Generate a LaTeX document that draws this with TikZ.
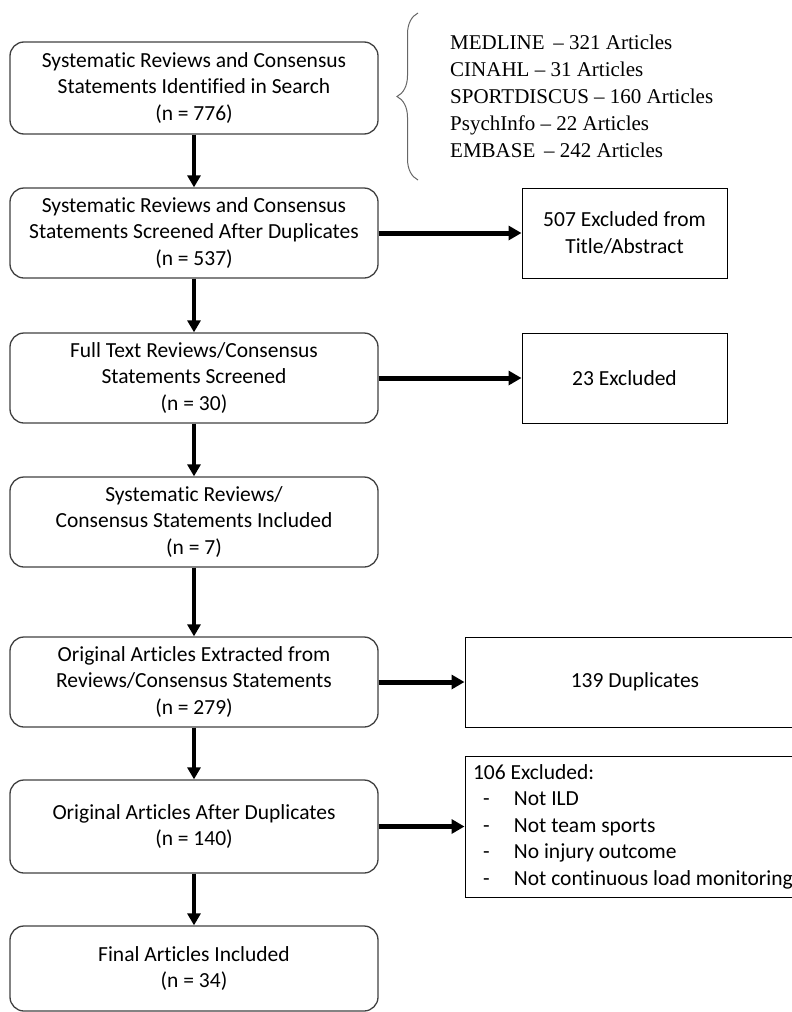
\documentclass[tikz,border=0pt]{standalone}
\usepackage{fontspec}
\setmainfont{Carlito}[Ligatures={TeX,NoCommon}]
\newfontfamily\timesfont{Liberation Serif}[Ligatures=TeX]
\usetikzlibrary{arrows.meta,decorations.pathreplacing}

\newcommand{\exclitem}[1]{\hspace*{10pt}\makebox[31pt][l]{-}#1}

\begin{document}
\begin{tikzpicture}[x=1pt,y=-1pt,
  stage/.style={draw=black!75, line width=1.3pt, rounded corners=14pt, minimum width=368pt,
    minimum height=90pt, align=center, inner sep=2pt, font=\fontsize{21.5}{26.5}\selectfont},
  note/.style={draw, line width=1pt, minimum height=90pt, align=center, inner sep=2pt,
    font=\fontsize{21.5}{26.5}\selectfont},
  down/.style={line width=3.5pt, -{Triangle[length=12pt,width=13pt]}},
  side/.style={line width=5pt, -{Triangle[length=13pt,width=14pt]}}]
\clip (0,0) rectangle (792,1012);

\node[stage, minimum height=92pt] (ident) at (194,88) {Systematic Reviews and Consensus\\ Statements Identified in Search\\ (n = 776)};
\node[stage] (screen) at (194,233) {Systematic Reviews and Consensus\\ Statements Screened After Duplicates\\ (n = 537)};
\node[stage] (full) at (194,378) {Full Text Reviews/Consensus\\ Statements Screened\\ (n = 30)};
\node[stage] (incl) at (194,522) {Systematic Reviews/\\ Consensus Statements Included\\ (n = 7)};
\node[stage] (orig) at (194,682) {Original Articles Extracted from\\ Reviews/Consensus Statements\\ (n = 279)};
\node[stage, minimum height=93pt] (dedup) at (194,826.5) {Original Articles After Duplicates\\ (n = 140)};
\node[stage, minimum height=85pt] (final) at (194,968.5) {Final Articles Included\\ (n = 34)};

\node[note, minimum width=205pt] (excl1) at (624.5,233) {507 Excluded from\\ Title/Abstract};
\node[note, minimum width=205pt] (excl2) at (624.5,378) {23 Excluded};
\node[note, minimum width=340pt] (dup) at (635,682) {139 Duplicates};
\node[note, minimum height=141pt, text width=324pt, inner xsep=8pt, align=flush left] (excl3) at (635,826.5)
  {106 Excluded:\\ \exclitem{Not ILD}\\ \exclitem{Not team sports}\\ \exclitem{No injury outcome}\\ \exclitem{Not continuous load monitoring}};

% databases searched
\coordinate (btop) at (418,13);
\coordinate (bbot) at (418,180);
\draw[black!60, line width=1pt, decorate, decoration={brace, amplitude=21pt}] (bbot) -- (btop);
\node[font=\timesfont\fontsize{21}{27}\selectfont, align=left, anchor=west, inner sep=0pt] (dbs) at (450,96)
  {MEDLINE \,– 321 Articles\\ CINAHL – 31 Articles\\ SPORTDISCUS – 160 Articles\\ PsychInfo – 22 Articles\\ EMBASE \,– 242 Articles};

\draw[down] (ident) -- (screen);
\draw[down] (screen) -- (full);
\draw[down] (full) -- (incl);
\draw[down] (incl) -- (orig);
\draw[down] (orig) -- (dedup);
\draw[down] (dedup) -- (final);

\draw[side] (screen) -- (excl1);
\draw[side] (full) -- (excl2);
\draw[side] (orig) -- (dup);
\draw[side] (dedup) -- (excl3);
\end{tikzpicture}
\end{document}
